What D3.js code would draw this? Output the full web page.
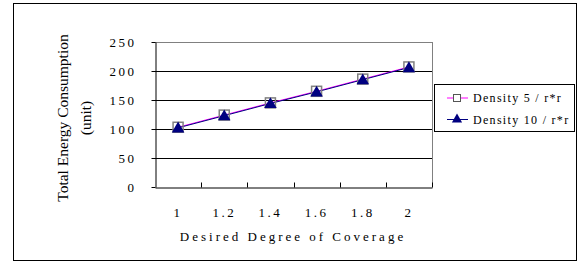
<!DOCTYPE html>
<html>
<head>
<meta charset="utf-8">
<script src="https://cdn.jsdelivr.net/npm/d3@7"></script>
<style>
  body { margin: 0; background: #fff; }
</style>
</head>
<body>
<div id="chart"></div>
<script>
// chart data
var categories = ["1", "1.2", "1.4", "1.6", "1.8", "2"];
var density5 = [103, 124, 145, 165, 186, 207];
var density10 = [102, 123, 144, 164, 185, 206];
var yTicks = [0, 50, 100, 150, 200, 250];
var seriesNames = ["Density 5 / r*r", "Density 10 / r*r"];

var W = 586, H = 262;
var plot = {left: 155, right: 432, top: 42, bottom: 187};
var serif = "'Liberation Serif', 'DejaVu Serif', serif";

var svg = d3.select("#chart").append("svg")
  .attr("width", W)
  .attr("height", H)
  .attr("font-family", serif);

// outer frame
svg.append("rect")
  .attr("x", 13.5).attr("y", 3.5)
  .attr("width", 563).attr("height", 257)
  .attr("fill", "none").attr("stroke", "#000").attr("stroke-width", 1);

var x = d3.scaleBand()
  .domain(categories)
  .range([plot.left, plot.right]);

var y = d3.scaleLinear()
  .domain([0, 250])
  .range([plot.bottom, plot.top]);

// grid lines
svg.append("g").selectAll("line")
  .data(yTicks.filter(function(d) { return d > 0; }))
  .enter().append("line")
    .attr("x1", plot.left).attr("x2", plot.right)
    .attr("y1", function(d) { return Math.round(y(d)) + 0.5; })
    .attr("y2", function(d) { return Math.round(y(d)) + 0.5; })
    .attr("stroke", function(d) { return d == 250 ? "#808080" : "#000"; });

// right border of plot area
svg.append("line")
  .attr("x1", plot.right + 0.5).attr("x2", plot.right + 0.5)
  .attr("y1", plot.top).attr("y2", plot.bottom)
  .attr("stroke", "#808080");

// y axis
var yAxis = svg.append("g")
  .attr("transform", "translate(" + (plot.left + 0.5) + ",0)")
  .call(d3.axisLeft(y).tickValues(yTicks).tickSize(4).tickPadding(15).tickSizeOuter(0));
yAxis.attr("font-family", serif).attr("font-size", 13);
yAxis.selectAll("text")
  .style("letter-spacing", "2.5px");

// x axis
var xAxis = svg.append("g")
  .attr("transform", "translate(0," + (plot.bottom + 0.5) + ")")
  .call(d3.axisBottom(x).tickSize(0).tickPadding(20).tickSizeOuter(0));
xAxis.attr("font-family", serif).attr("font-size", 13);
xAxis.selectAll("text")
  .style("letter-spacing", "2.5px");
// tick marks between categories
xAxis.selectAll(".sep")
  .data(categories)
  .enter().append("line")
    .attr("x1", function(d) { return Math.round(x(d) + x.bandwidth()) + 0.5; })
    .attr("x2", function(d) { return Math.round(x(d) + x.bandwidth()) + 0.5; })
    .attr("y1", 0).attr("y2", -5)
    .attr("stroke", "#000");
svg.selectAll(".domain").attr("stroke", "#000");

// axis titles
svg.append("text")
  .attr("x", 293).attr("y", 241)
  .attr("text-anchor", "middle")
  .attr("font-size", 13)
  .style("letter-spacing", "3px")
  .text("Desired Degree of Coverage");

svg.append("text")
  .attr("transform", "translate(68,118) rotate(-90)")
  .attr("text-anchor", "middle")
  .attr("font-size", 15.5)
  .text("Total Energy Consumption");
svg.append("text")
  .attr("transform", "translate(91,118) rotate(-90)")
  .attr("text-anchor", "middle")
  .attr("font-size", 15.5)
  .text("(unit)");

// lines
var line = d3.line()
  .x(function(d, i) { return x(categories[i]) + x.bandwidth() / 2; })
  .y(function(d) { return y(d); });

svg.append("path").datum(density5)
  .attr("d", line).attr("fill", "none").attr("stroke", "#ff00ff").attr("stroke-width", 1);
svg.append("path").datum(density10)
  .attr("d", line).attr("fill", "none").attr("stroke", "#000080").attr("stroke-width", 1);

// markers
var sq = 10;
svg.selectAll(".sq")
  .data(density5)
  .enter().append("rect")
    .attr("x", function(d, i) { return x(categories[i]) + x.bandwidth() / 2 - sq / 2; })
    .attr("y", function(d) { return y(d) - sq / 2; })
    .attr("width", sq).attr("height", sq)
    .attr("fill", "none").attr("stroke", "#808080").attr("stroke-width", 1.5);

var tri = d3.symbol().type(d3.symbolTriangle).size(68);
svg.selectAll(".tri")
  .data(density10)
  .enter().append("path")
    .attr("d", tri)
    .attr("transform", function(d, i) {
      return "translate(" + (x(categories[i]) + x.bandwidth() / 2) + "," + (y(d) + 1) + ")";
    })
    .attr("fill", "#000080");

// legend
var legend = svg.append("g");
legend.append("rect")
  .attr("x", 434.5).attr("y", 84.5)
  .attr("width", 140).attr("height", 47)
  .attr("fill", "#fff").attr("stroke", "#000");

var legColors = ["#ff00ff", "#000080"];
var triSmall = d3.symbol().type(d3.symbolTriangle).size(45);
seriesNames.forEach(function(name, i) {
  var ly = 98 + i * 21.5;
  legend.append("line")
    .attr("x1", 447).attr("x2", 468)
    .attr("y1", ly).attr("y2", ly)
    .attr("stroke", legColors[i]);
  if (i == 0) {
    legend.append("rect")
      .attr("x", 453.5).attr("y", ly - 3.5)
      .attr("width", 7).attr("height", 7)
      .attr("fill", "#fff").attr("stroke", "#555").attr("stroke-width", 1);
  } else {
    legend.append("path")
      .attr("d", triSmall)
      .attr("transform", "translate(457," + ly + ")")
      .attr("fill", "#000080");
  }
  legend.append("text")
    .attr("x", 473).attr("y", ly + 4)
    .attr("font-size", 12)
    .style("letter-spacing", "1.3px")
    .text(name);
});
</script>
</body>
</html>
